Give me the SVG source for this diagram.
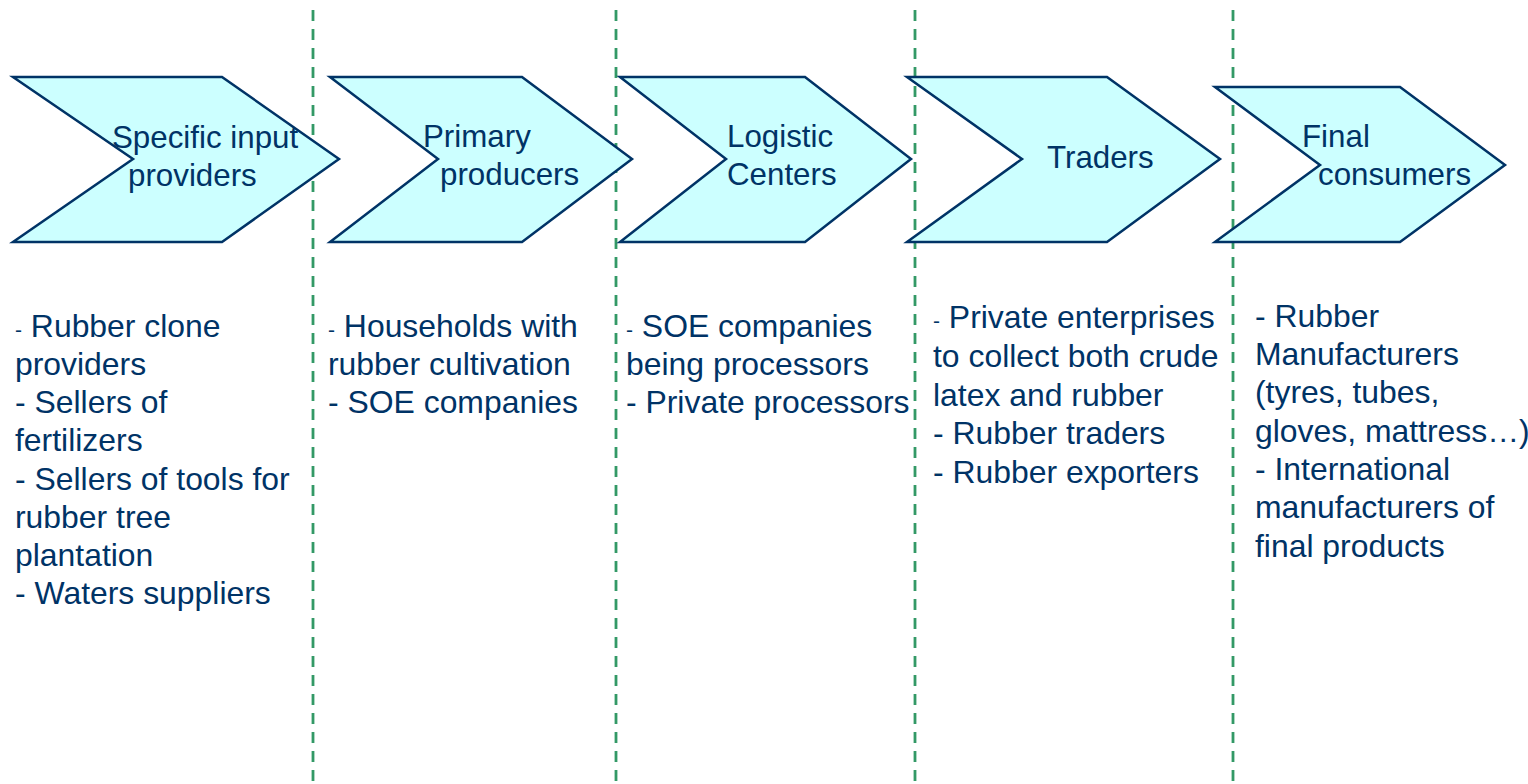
<svg xmlns="http://www.w3.org/2000/svg" width="1528" height="784" viewBox="0 0 1528 784">
<style>
.chev{fill:#CCFFFF;stroke:#003366;stroke-width:2.5;stroke-linejoin:miter}
.lbl{font-family:"Liberation Sans",Arial,sans-serif;font-size:31.3px;fill:#003366}
.lst{font-family:"Liberation Sans",Arial,sans-serif;font-size:31.9px;fill:#003366}
.sm{font-size:21px}
.sep{stroke:#339966;stroke-width:2.8;stroke-dasharray:11,8;fill:none}
</style>
<rect width="1528" height="784" fill="#FFFFFF"/>
<g id="separators">
<line class="sep" x1="313" y1="10" x2="313" y2="784"/>
<line class="sep" x1="616" y1="10" x2="616" y2="784"/>
<line class="sep" x1="915" y1="10" x2="915" y2="784"/>
<line class="sep" x1="1233" y1="10" x2="1233" y2="784"/>
</g>
<g id="node1">
<polygon class="chev" points="13,77 222,77 339,159 222,242 13,242 133,159"/>
<text class="lbl" x="112" y="148">Specific input</text>
<text class="lbl" x="128" y="186">providers</text>
</g>
<g id="node2">
<polygon class="chev" points="330,77 522,77 632,159 522,242 330,242 438,159"/>
<text class="lbl" x="423" y="147">Primary</text>
<text class="lbl" x="440" y="185">producers</text>
</g>
<g id="node3">
<polygon class="chev" points="620,77 805,77 911,159 805,242 620,242 726,159"/>
<text class="lbl" x="727" y="147">Logistic</text>
<text class="lbl" x="727" y="185">Centers</text>
</g>
<g id="node4">
<polygon class="chev" points="907,77 1107,77 1220,159 1107,242 907,242 1022,159"/>
<text class="lbl" x="1047" y="168">Traders</text>
</g>
<g id="node5">
<polygon class="chev" points="1215,87 1400,87 1505,165 1400,242 1215,242 1320,165"/>
<text class="lbl" x="1302" y="147">Final</text>
<text class="lbl" x="1318" y="185">consumers</text>
</g>
<g id="list1" class="lst">
<text x="15" y="337"><tspan class="sm">-</tspan> Rubber clone</text>
<text x="15" y="375">providers</text>
<text x="15" y="413">- Sellers of</text>
<text x="15" y="451">fertilizers</text>
<text x="15" y="490">- Sellers of tools for</text>
<text x="15" y="528">rubber tree</text>
<text x="15" y="566">plantation</text>
<text x="15" y="604">- Waters suppliers</text>
</g>
<g id="list2" class="lst">
<text x="328" y="337"><tspan class="sm">-</tspan> Households with</text>
<text x="328" y="375">rubber cultivation</text>
<text x="328" y="413">- SOE companies</text>
</g>
<g id="list3" class="lst">
<text x="626" y="337"><tspan class="sm">-</tspan> SOE companies</text>
<text x="626" y="375">being processors</text>
<text x="626" y="413">- Private processors</text>
</g>
<g id="list4" class="lst">
<text x="933" y="328"><tspan class="sm">-</tspan> Private enterprises</text>
<text x="933" y="367">to collect both crude</text>
<text x="933" y="406">latex and rubber</text>
<text x="933" y="444">- Rubber traders</text>
<text x="933" y="483">- Rubber exporters</text>
</g>
<g id="list5" class="lst">
<text x="1255" y="327">- Rubber</text>
<text x="1255" y="365">Manufacturers</text>
<text x="1255" y="403">(tyres, tubes,</text>
<text x="1255" y="442">gloves, mattress…)</text>
<text x="1255" y="480">- International</text>
<text x="1255" y="518">manufacturers of</text>
<text x="1255" y="557">final products</text>
</g>
</svg>
